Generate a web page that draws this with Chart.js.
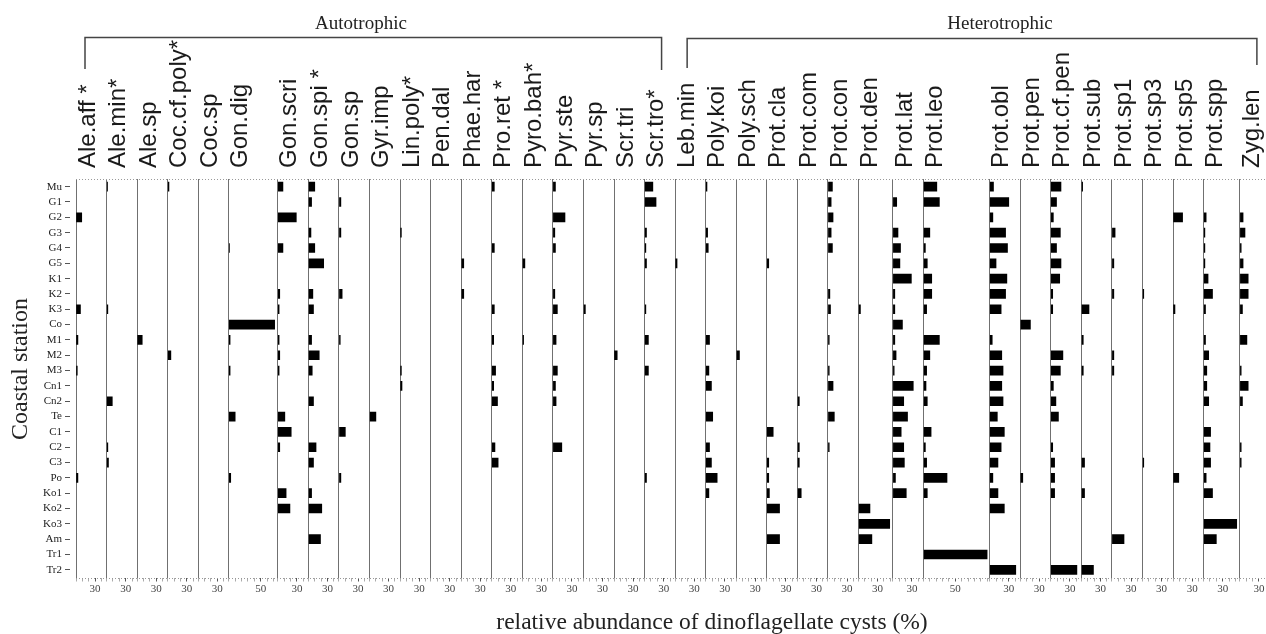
<!DOCTYPE html>
<html><head><meta charset="utf-8">
<script src="https://cdn.jsdelivr.net/npm/chart.js@4.4.1/dist/chart.umd.min.js"></script>
<style>html,body{margin:0;padding:0;background:#fff;}canvas{display:block;}</style>
</head><body>
<canvas id="c" width="1266" height="634"></canvas>
<script>
// ---- categories ----
const stations = ['Mu','G1','G2','G3','G4','G5','K1','K2','K3','Co','M1','M2','M3','Cn1','Cn2','Te','C1','C2','C3','Po','Ko1','Ko2','Ko3','Am','Tr1','Tr2'];
const species = ['Ale.aff *','Ale.min*','Ale.sp','Coc.cf.poly*','Coc.sp','Gon.dig','Gon.scri','Gon.spi *','Gon.sp','Gyr.imp','Lin.poly*','Pen.dal','Phae.har','Pro.ret *','Pyro.bah*','Pyr.ste','Pyr.sp','Scr.tri','Scr.tro*',
  'Leb.min','Poly.koi','Poly.sch','Prot.cla','Prot.com','Prot.con','Prot.den','Prot.lat','Prot.leo','Prot.obl','Prot.pen','Prot.cf.pen','Prot.sub','Prot.sp1','Prot.sp3','Prot.sp5','Prot.spp','Zyg.len'];
const groupNames = ['Autotrophic','Heterotrophic'];
const groupSizes = [19, 18];

// ---- axis ranges (%) per panel and labelled tick per panel ----
const colMax = [48,48,48,48,48,77,48,48,48,48,48,48,48,48,48,48,48,48,48,
                48,48,48,48,48,48,54,48,104,48,48,48,48,48,48,48,57,41];
const labelTick = [30,30,30,30,30,50,30,30,30,30,30,30,30,30,30,30,30,30,30,
                   30,30,30,30,30,30,30,30,50,30,30,30,30,30,30,30,30,30];

// ---- series values (% per station, order as stations) ----
//                Mu G1 G2 G3 G4 G5 K1 K2 K3 Co M1 M2 M3 Cn1 Cn2 Te C1 C2 C3 Po Ko1 Ko2 Ko3 Am Tr1 Tr2
const aleAff   = [0, 0, 9, 0, 0, 0, 0, 0, 7, 0, 3, 0, 2, 0,  0,  0, 0, 0, 0, 3, 0,  0,  0,  0, 0,  0];
const aleMin   = [1.5,0,0, 0, 0, 0, 0, 0, 2, 0, 0, 0, 0, 0,  9,  0, 0, 2, 3, 0, 0,  0,  0,  0, 0,  0];
const aleSp    = [0, 0, 0, 0, 0, 0, 0, 0, 0, 0, 8, 0, 0, 0,  0,  0, 0, 0, 0, 0, 0,  0,  0,  0, 0,  0];
const cocCfPoly= [2, 0, 0, 0, 0, 0, 0, 0, 0, 0, 0, 5, 0, 0,  0,  0, 0, 0, 0, 0, 0,  0,  0,  0, 0,  0];
const cocSp    = [0, 0, 0, 0, 0, 0, 0, 0, 0, 0, 0, 0, 0, 0,  0,  0, 0, 0, 0, 0, 0,  0,  0,  0, 0,  0];
const gonDig   = [0, 0, 0, 0, 1, 0, 0, 0, 0,72, 2, 0, 2, 0,  0, 10, 0, 0, 0, 3, 0,  0,  0,  0, 0,  0];
const gonScri  = [8, 0,29, 0, 8, 0, 0, 3, 2, 0, 2, 3, 2, 0,  0, 11,21, 3, 0, 0,13, 19,  0,  0, 0,  0];
const gonSpi   = [10,5, 0, 4,10,24, 0, 7, 8, 0, 5,17, 6, 0,  8,  0, 0,12, 8, 0, 5, 21,  0, 19, 0,  0];
const gonSp    = [0, 3, 0, 3, 0, 0, 0, 5, 0, 0, 2, 0, 0, 0,  0,  0,10, 0, 0, 3, 0,  0,  0,  0, 0,  0];
const gyrImp   = [0, 0, 0, 0, 0, 0, 0, 0, 0, 0, 0, 0, 0, 0,  0, 10, 0, 0, 0, 0, 0,  0,  0,  0, 0,  0];
const linPoly  = [0, 0, 0, 2, 0, 0, 0, 0, 0, 0, 0, 0, 2, 3,  0,  0, 0, 0, 0, 0, 0,  0,  0,  0, 0,  0];
const penDal   = [0, 0, 0, 0, 0, 0, 0, 0, 0, 0, 0, 0, 0, 0,  0,  0, 0, 0, 0, 0, 0,  0,  0,  0, 0,  0];
const phaeHar  = [0, 0, 0, 0, 0, 4, 0, 4, 0, 0, 0, 0, 0, 0,  0,  0, 0, 0, 0, 0, 0,  0,  0,  0, 0,  0];
const proRet   = [4, 0, 0, 0, 4, 0, 0, 0, 4, 0, 3, 0, 6, 3,  9,  0, 0, 5,10, 0, 0,  0,  0,  0, 0,  0];
const pyroBah  = [0, 0, 0, 0, 0, 4, 0, 0, 0, 0, 2, 0, 0, 0,  0,  0, 0, 0, 0, 0, 0,  0,  0,  0, 0,  0];
const pyrSte   = [4, 0,19, 3, 4, 0, 0, 3, 7, 0, 5, 0, 7, 4,  5,  0, 0,14, 0, 0, 0,  0,  0,  0, 0,  0];
const pyrSp    = [0, 0, 0, 0, 0, 0, 0, 0, 3, 0, 0, 0, 0, 0,  0,  0, 0, 0, 0, 0, 0,  0,  0,  0, 0,  0];
const scrTri   = [0, 0, 0, 0, 0, 0, 0, 0, 0, 0, 0, 5, 0, 0,  0,  0, 0, 0, 0, 0, 0,  0,  0,  0, 0,  0];
const scrTro   = [13,18,0, 3, 2, 3, 0, 0, 2, 0, 6, 0, 6, 0,  0,  0, 0, 0, 0, 3, 0,  0,  0,  0, 0,  0];
const lebMin   = [0, 0, 0, 0, 0, 3, 0, 0, 0, 0, 0, 0, 0, 0,  0,  0, 0, 0, 0, 0, 0,  0,  0,  0, 0,  0];
const polyKoi  = [2, 0, 0, 3, 4, 0, 0, 0, 0, 0, 6, 0, 5, 9,  0, 11, 0, 6, 9,18, 5,  0,  0,  0, 0,  0];
const polySch  = [0, 0, 0, 0, 0, 0, 0, 0, 0, 0, 0, 5, 0, 0,  0,  0, 0, 0, 0, 0, 0,  0,  0,  0, 0,  0];
const protCla  = [0, 0, 0, 0, 0, 3, 0, 0, 0, 0, 0, 0, 0, 0,  0,  0,10, 0, 3, 3, 4, 20,  0, 20, 0,  0];
const protCom  = [0, 0, 0, 0, 0, 0, 0, 0, 0, 0, 0, 0, 0, 0,  3,  0, 0, 3, 3, 0, 6,  0,  0,  0, 0,  0];
const protCon  = [7, 5, 8, 5, 7, 0, 0, 3, 4, 0, 2, 0, 2, 8,  0, 10, 0, 2, 0, 0, 0,  0,  0,  0, 0,  0];
const protDen  = [0, 0, 0, 0, 0, 0, 0, 0, 3, 0, 0, 0, 0, 0,  0,  0, 0, 0, 0, 0, 0, 18, 49, 21, 0,  0];
const protLat  = [0, 6, 0, 8,12,11,29, 3, 3,15, 3, 5, 2,32, 17, 23,13,17,18, 4,21,  0,  0,  0, 0,  0];
const protLeo  = [21,25,0,10, 3, 6,13,13, 5, 0,25,10, 5, 4,  6,  0,12, 3, 5,37, 6,  0,  0,  0,100, 0];
const protObl  = [6,30, 5,25,28,10,27,25,18, 0, 4,19,21,19, 21, 12,23,18,13, 5,13, 23,  0,  0, 0, 41];
const protPen  = [0, 0, 0, 0, 0, 0, 0, 0, 0,16, 0, 0, 0, 0,  0,  0, 0, 0, 0, 4, 0,  0,  0,  0, 0,  0];
const protCfPen= [16,9, 4,15, 9,16,14, 3, 3, 0, 0,19,15, 4,  8, 12, 0, 3, 6, 6, 6,  0,  0,  0, 0, 41];
const protSub  = [2, 0, 0, 0, 0, 0, 0, 0,12, 0, 3, 0, 3, 0,  0,  0, 0, 0, 5, 0, 5,  0,  0,  0, 0, 19];
const protSp1  = [0, 0, 0, 5, 0, 3, 0, 3, 0, 0, 0, 3, 3, 0,  0,  0, 0, 0, 0, 0, 0,  0,  0, 19, 0,  0];
const protSp3  = [0, 0, 0, 0, 0, 0, 0, 2, 0, 0, 0, 0, 0, 0,  0,  0, 0, 0, 2, 0, 0,  0,  0,  0, 0,  0];
const protSp5  = [0, 0,15, 0, 0, 0, 0, 0, 3, 0, 0, 0, 0, 0,  0,  0, 0, 0, 0, 9, 0,  0,  0,  0, 0,  0];
const protSpp  = [0, 0, 4, 2, 2, 2, 7,14, 3, 0, 3, 8, 5, 5,  8,  0,11,10,11, 4,14,  0, 52, 20, 0,  0];
const zygLen   = [0, 0, 5, 8, 2, 5,13,13, 4, 0,11, 0, 2,13,  4,  0, 0, 2, 2, 0, 0,  0,  0,  0, 0,  0];

const seriesValues = [aleAff, aleMin, aleSp, cocCfPoly, cocSp, gonDig, gonScri, gonSpi, gonSp, gyrImp, linPoly, penDal, phaeHar, proRet, pyroBah, pyrSte, pyrSp, scrTri, scrTro,
  lebMin, polyKoi, polySch, protCla, protCom, protCon, protDen, protLat, protLeo, protObl, protPen, protCfPen, protSub, protSp1, protSp3, protSp5, protSpp, zygLen];

// ---- build chart ----
const SERIF = '"Liberation Serif", "Times New Roman", serif';
const SANS = '"Liberation Sans", Arial, sans-serif';

const scales = {
  y: {
    type: 'category', position: 'left', offset: true,
    grid: { offset: false, drawOnChartArea: false, drawTicks: true, tickLength: 11, tickColor: '#555', tickWidth: 1, tickBorderDash: [5, 20] },
    border: { display: false },
    ticks: { font: { family: SERIF, size: 11 }, color: '#222', padding: 3, autoSkip: false },
    title: { display: false },
    afterFit(s) { s.width = 76; }
  }
};
species.forEach((sp, i) => {
  scales['x' + i] = {
    type: 'linear', position: 'bottom', stack: 'panels', stackWeight: colMax[i],
    min: 0, max: colMax[i],
    afterBuildTicks(s) {
      const t = [];
      for (let v = 0; v < colMax[i] - 2; v += 10) t.push({ value: v });
      s.ticks = t;
    },
    ticks: {
      autoSkip: false, maxRotation: 0, minRotation: 0, padding: 1,
      font: { family: SERIF, size: 11 }, color: '#444',
      callback: (v) => (v === labelTick[i] ? String(v) : '')
    },
    grid: {
      drawTicks: true, tickLength: 4, lineWidth: 1,
      color: (c) => (c.tick && c.tick.value === 0 ? '#707070' : 'rgba(0,0,0,0)'),
      tickColor: (c) => (c.tick && c.tick.value === labelTick[i] ? '#555' : '#aaa')
    },
    border: { display: false },
    afterFit(s) { s.height = 22; s.paddingLeft = 0; s.paddingRight = 0; }
  };
});

const decorations = {
  id: 'decorations',
  afterDraw(chart) {
    const ctx = chart.ctx;
    const ca = chart.chartArea;
    ctx.save();
    // dotted frame lines top and bottom
    ctx.strokeStyle = '#999'; ctx.lineWidth = 1; ctx.setLineDash([1, 2]);
    ctx.beginPath();
    ctx.moveTo(ca.left, ca.top + 0.5); ctx.lineTo(ca.right, ca.top + 0.5);
    ctx.moveTo(ca.left, Math.round(ca.bottom) + 0.5); ctx.lineTo(ca.right, Math.round(ca.bottom) + 0.5);
    ctx.stroke();
    ctx.setLineDash([]);
    // y axis title
    ctx.fillStyle = '#222';
    ctx.font = '24px ' + SERIF;
    ctx.textAlign = 'center'; ctx.textBaseline = 'middle';
    ctx.save();
    ctx.translate(21, 369);
    ctx.rotate(-Math.PI / 2);
    ctx.fillText('Coastal station', 0, 0);
    ctx.restore();
    // column headers
    ctx.fillStyle = '#1a1a1a';
    ctx.font = '24px ' + SANS;
    ctx.textAlign = 'left'; ctx.textBaseline = 'middle';
    species.forEach((sp, i) => {
      const s = chart.scales['x' + i];
      ctx.save();
      ctx.translate(s.left + 12, 168);
      ctx.rotate(-Math.PI / 2);
      ctx.fillText(sp, 0, 0);
      ctx.restore();
    });
    // group brackets
    ctx.strokeStyle = '#444'; ctx.lineWidth = 1.5;
    let start = 0;
    const br = [
      { l: 9, r: 17, y: 37.5, dl: 69, dr: 70, tx: 361 },
      { l: 12, r: 17, y: 38.5, dl: 68, dr: 65, tx: 1000 }
    ];
    groupNames.forEach((g, k) => {
      const first = chart.scales['x' + start];
      const last = chart.scales['x' + (start + groupSizes[k] - 1)];
      const x1 = first.left + br[k].l, x2 = last.left + br[k].r;
      ctx.beginPath();
      ctx.moveTo(x1, br[k].dl); ctx.lineTo(x1, br[k].y); ctx.lineTo(x2, br[k].y); ctx.lineTo(x2, br[k].dr);
      ctx.stroke();
      ctx.fillStyle = '#222';
      ctx.font = '19px ' + SERIF;
      ctx.textAlign = 'center'; ctx.textBaseline = 'alphabetic';
      ctx.fillText(g, br[k].tx, 29);
      start += groupSizes[k];
    });
    // x axis title
    ctx.fillStyle = '#222';
    ctx.font = '23.5px ' + SERIF;
    ctx.textAlign = 'center'; ctx.textBaseline = 'alphabetic';
    ctx.fillText('relative abundance of dinoflagellate cysts (%)', 712, 629);
    ctx.restore();
  }
};

new Chart(document.getElementById('c'), {
  type: 'bar',
  data: {
    labels: stations,
    datasets: species.map((sp, i) => ({
      label: sp,
      data: seriesValues[i].map(v => (v > 0 ? v : null)),
      xAxisID: 'x' + i, yAxisID: 'y',
      backgroundColor: '#000', borderWidth: 0,
      barThickness: 9, grouped: false
    }))
  },
  options: {
    indexAxis: 'y',
    responsive: false, animation: false, devicePixelRatio: 1,
    layout: { padding: { top: 179, right: 0, bottom: 34.5, left: 0 } },
    plugins: { legend: { display: false }, tooltip: { enabled: false } },
    scales
  },
  plugins: [decorations]
});
</script>
</body></html>
